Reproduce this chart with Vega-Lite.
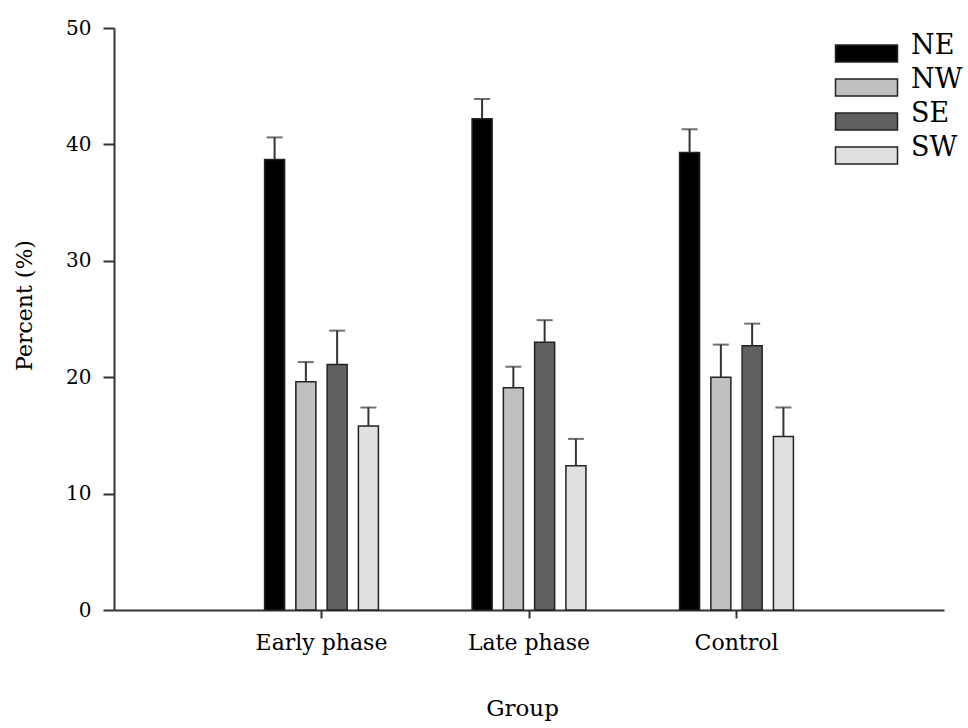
{
  "$schema": "https://vega.github.io/schema/vega-lite/v6.json",
  "width": 830,
  "height": 582,
  "autosize": "none",
  "padding": {"left": 114, "top": 28, "right": 24, "bottom": 118},
  "background": "white",
  "config": {
    "view": {"stroke": null},
    "font": "DejaVu Serif",
    "axis": {
      "grid": false,
      "domainColor": "#333333",
      "domainWidth": 2,
      "tickColor": "#333333",
      "tickWidth": 2,
      "labelColor": "#000000",
      "titleColor": "#000000",
      "labelFont": "DejaVu Serif",
      "titleFont": "DejaVu Serif",
      "titleFontWeight": "normal"
    }
  },
  "data": {
    "values": [
      {"group": "Early phase", "region": "NE", "value": 38.7, "upper": 40.6},
      {"group": "Early phase", "region": "NW", "value": 19.6, "upper": 21.3},
      {"group": "Early phase", "region": "SE", "value": 21.1, "upper": 24.0},
      {"group": "Early phase", "region": "SW", "value": 15.8, "upper": 17.4},
      {"group": "Late phase", "region": "NE", "value": 42.2, "upper": 43.9},
      {"group": "Late phase", "region": "NW", "value": 19.1, "upper": 20.9},
      {"group": "Late phase", "region": "SE", "value": 23.0, "upper": 24.9},
      {"group": "Late phase", "region": "SW", "value": 12.4, "upper": 14.7},
      {"group": "Control", "region": "NE", "value": 39.3, "upper": 41.3},
      {"group": "Control", "region": "NW", "value": 20.0, "upper": 22.8},
      {"group": "Control", "region": "SE", "value": 22.7, "upper": 24.6},
      {"group": "Control", "region": "SW", "value": 14.9, "upper": 17.4}
    ]
  },
  "encoding": {
    "x": {
      "field": "group",
      "type": "nominal",
      "sort": ["Early phase", "Late phase", "Control"],
      "scale": {"paddingInner": 0.15, "paddingOuter": 0.575},
      "axis": {
        "title": "Group",
        "labelAngle": 0,
        "labelFontSize": 22,
        "titleFontSize": 23,
        "tickSize": 8,
        "labelPadding": 14,
        "titlePadding": 44,
        "titleX": 408
      }
    },
    "xOffset": {
      "field": "region",
      "type": "nominal",
      "scale": {"paddingInner": 0.36, "paddingOuter": 1}
    }
  },
  "layer": [
    {
      "mark": {"type": "bar", "stroke": "#222222", "strokeWidth": 1.5},
      "encoding": {
        "y": {
          "field": "value",
          "type": "quantitative",
          "scale": {"domain": [0, 50], "nice": false},
          "axis": {
            "title": "Percent (%)",
            "values": [0, 10, 20, 30, 40, 50],
            "labelFontSize": 20,
            "titleFontSize": 22,
            "tickSize": 11,
            "labelPadding": 12,
            "titlePadding": 29,
            "titleY": 277
          }
        },
        "fill": {
          "field": "region",
          "type": "nominal",
          "scale": {"domain": ["NE", "NW", "SE", "SW"], "range": ["#000000", "#c0c0c0", "#606060", "#e0e0e0"]},
          "legend": {
            "title": null,
            "orient": "none",
            "legendX": 739,
            "legendY": 12,
            "symbolType": "M-3.647,-1H3.647V1H-3.647Z",
            "symbolSize": 289,
            "symbolStrokeColor": "#222222",
            "symbolStrokeWidth": 1.5,
            "symbolOpacity": 1,
            "labelFont": "DejaVu Serif",
            "labelFontSize": 27,
            "labelColor": "#000000",
            "labelOffset": 31,
            "labelBaseline": "alphabetic",
            "rowPadding": 0
          }
        }
      }
    },
    {
      "mark": {"type": "rule", "color": "#333333", "strokeWidth": 2},
      "encoding": {
        "y": {"field": "value", "type": "quantitative"},
        "y2": {"field": "upper"}
      }
    },
    {
      "mark": {"type": "tick", "color": "#333333", "thickness": 2, "size": 16},
      "encoding": {
        "y": {"field": "upper", "type": "quantitative"}
      }
    }
  ]
}
